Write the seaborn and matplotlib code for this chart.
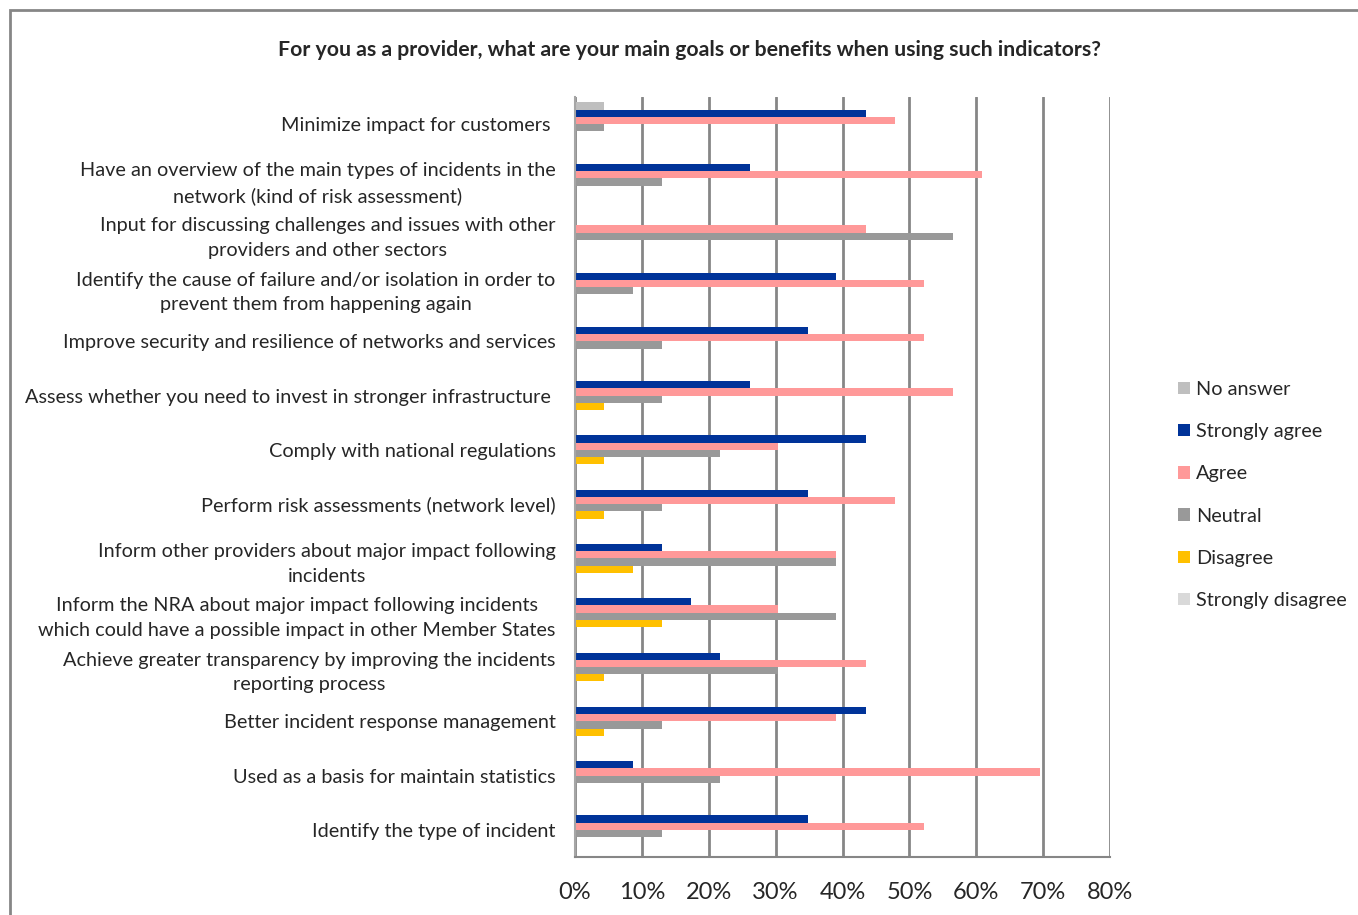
import matplotlib
matplotlib.use("Agg")
import matplotlib.pyplot as plt
from matplotlib.patches import Rectangle
import seaborn as sns
import pandas as pd

# Survey statements (top to bottom)
statements = [
    "Minimize impact for customers ",
    "Have an overview of the main types of incidents in the\nnetwork (kind of risk assessment)",
    "Input for discussing challenges and issues with other\nproviders and other sectors",
    "Identify the cause of failure and/or isolation in order to\nprevent them from happening again",
    "Improve security and resilience of networks and services",
    "Assess whether you need to invest in stronger infrastructure ",
    "Comply with national regulations",
    "Perform risk assessments (network level)",
    "Inform other providers about major impact following\nincidents",
    "Inform the NRA about major impact following incidents\nwhich could have a possible impact in other Member States",
    "Achieve greater transparency by improving the incidents\nreporting process",
    "Better incident response management",
    "Used as a basis for maintain statistics",
    "Identify the type of incident",
]

# Share of respondents (%) per answer
no_answer         = [4.3, 0, 0, 0, 0, 0, 0, 0, 0, 0, 0, 0, 0, 0]
strongly_agree    = [43.5, 26.1, 0, 39.1, 34.8, 26.1, 43.5, 34.8, 13.0, 17.4, 21.7, 43.5, 8.7, 34.8]
agree             = [47.8, 60.9, 43.5, 52.2, 52.2, 56.5, 30.4, 47.8, 39.1, 30.4, 43.5, 39.1, 69.6, 52.2]
neutral           = [4.3, 13.0, 56.5, 8.7, 13.0, 13.0, 21.7, 13.0, 39.1, 39.1, 30.4, 13.0, 21.7, 13.0]
disagree          = [0, 0, 0, 0, 0, 4.3, 4.3, 4.3, 8.7, 13.0, 4.3, 4.3, 0, 0]
strongly_disagree = [0, 0, 0, 0, 0, 0, 0, 0, 0, 0, 0, 0, 0, 0]

answers = ["No answer", "Strongly agree", "Agree", "Neutral", "Disagree", "Strongly disagree"]
colors = ["#BFBFBF", "#003399", "#FF9999", "#999999", "#FFC000", "#D9D9D9"]
xticks = [0, 10, 20, 30, 40, 50, 60, 70, 80]

series = [no_answer, strongly_agree, agree, neutral, disagree, strongly_disagree]
rows = []
for ans, vals in zip(answers, series):
    for st, v in zip(statements, vals):
        rows.append({"statement": st, "answer": ans, "share": v})
df = pd.DataFrame(rows)

sns.set_style("white")
plt.rcParams["font.family"] = ["Lato", "DejaVu Sans"]

fig = plt.figure(figsize=(13.58, 9.15), dpi=100)
ax = fig.add_axes([575 / 1358, 1 - 857 / 915, 535 / 1358, 760 / 915])

sns.barplot(
    data=df, x="share", y="statement", hue="answer",
    order=statements, hue_order=answers, palette=colors,
    orient="h", width=0.8, linewidth=0, saturation=1, ax=ax,
)

ax.set_xlim(0, 80)
ax.set_xticks(xticks, [f"{t}%" for t in xticks], fontsize=17)
ax.set_yticks(range(len(statements)), statements, fontsize=14.3,
              linespacing=1.55, multialignment="center")
ax.set_xlabel("")
ax.set_ylabel("")
ax.tick_params(axis="x", length=0, pad=18)
ax.tick_params(axis="y", length=0, pad=14)

ax.set_axisbelow(True)
ax.xaxis.grid(True, color="#868686", linewidth=2)
ax.yaxis.grid(False)
for side in ["top", "right"]:
    ax.spines[side].set_visible(False)
ax.spines["left"].set_color("#A6A6A6")
ax.spines["bottom"].set_color("#868686")
ax.spines["left"].set_linewidth(1.5)
ax.spines["bottom"].set_linewidth(1.5)

handles, labels = ax.get_legend_handles_labels()
ax.legend(
    handles, labels, loc="center left", bbox_to_anchor=(1160 / 1358, 1 - 495 / 915),
    bbox_transform=fig.transFigure, frameon=False, fontsize=14.3,
    handlelength=0.6, handleheight=0.6, handletextpad=0.3, labelspacing=1.27,
)

fig.text(690 / 1358, 1 - 50 / 915,
         "For you as a provider, what are your main goals or benefits when using such indicators?",
         ha="center", va="center", fontsize=15.3, fontweight="bold")

# chart frame
fig.patches.append(Rectangle((10 / 1358, -0.05), 1.1, 1 - 10 / 915 + 0.05,
                             transform=fig.transFigure, fill=False,
                             edgecolor="#868686", linewidth=2))

fig.savefig("out.png", dpi=100)
